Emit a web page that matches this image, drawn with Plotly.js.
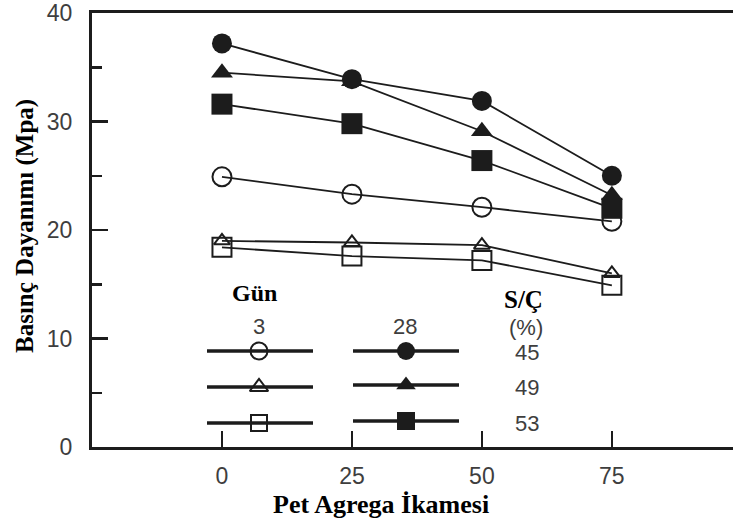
<!DOCTYPE html>
<html>
<head>
<meta charset="utf-8">
<script src="https://cdn.plot.ly/plotly-3.0.1.min.js"></script>
<style>html,body{margin:0;padding:0;background:#fff;}</style>
</head>
<body>
<div id="chart" style="width:733px;height:525px;"></div>
<script>
// ---- data ----
const petReplacement = [0, 25, 50, 75];
const day28_wc45 = [37.2, 33.9, 31.9, 25.0];
const day28_wc49 = [34.5, 33.7, 29.1, 23.2];
const day28_wc53 = [31.6, 29.8, 26.4, 22.0];
const day3_wc45 = [24.9, 23.3, 22.1, 20.8];
const day3_wc49 = [19.0, 18.85, 18.6, 16.0];
const day3_wc53 = [18.4, 17.6, 17.2, 14.9];
const xTickVals = [0, 25, 50, 75];
const yTickVals = [0, 10, 20, 30, 40];
const legendDays = ['3', '28'];
const legendWC = ['45', '49', '53'];
const xTitle = 'Pet Agrega İkamesi';
const yTitle = 'Basınç Dayanımı (Mpa)';

// ---- styles ----
const ink = '#1c1c1c';
const tickGray = '#3e3e3e';
const sans = 'Liberation Sans, Arial, sans-serif';
const serif = 'Liberation Serif';

function series(y, symbol, size, filled) {
  return {
    x: petReplacement, y: y, type: 'scatter', mode: 'lines+markers',
    line: {color: ink, width: 1.8},
    marker: {symbol: symbol, size: size, color: ink,
             line: {color: ink, width: filled ? 0 : 2}},
    showlegend: false, cliponaxis: false, hoverinfo: 'x+y'
  };
}

const traces = [
  series(day3_wc49, 'triangle-up-open', 14, false),
  series(day3_wc53, 'square-open', 19, false),
  series(day3_wc45, 'circle-open', 19, false),
  series(day28_wc53, 'square', 21, true),
  series(day28_wc49, 'triangle-up', 19, true),
  series(day28_wc45, 'circle', 20, true)
];

// ---- hand-drawn key (positions in pixel-like helper axes) ----
const keyRowsY = {left: [351, 387, 423], right: [351, 385, 421]};
const keyCols = {left: {x0: 207, x1: 313, xm: 259}, right: {x0: 353, x1: 459, xm: 406}};
const keySymbols = {left: ['circle-open', 'triangle-up-open', 'square-open'],
                    right: ['circle', 'triangle-up', 'square']};
const keySizes = {left: [17, 16, 16], right: [18, 17, 18]};

['left', 'right'].forEach(side => {
  keyRowsY[side].forEach((yy, i) => {
    const c = keyCols[side];
    traces.push({
      x: [c.x0, c.x1], y: [yy, yy], xaxis: 'x2', yaxis: 'y2', type: 'scatter',
      mode: 'lines', line: {color: ink, width: 3.3}, showlegend: false, hoverinfo: 'skip'
    });
    const open = side === 'left';
    traces.push({
      x: [c.xm], y: [yy], xaxis: 'x2', yaxis: 'y2', type: 'scatter', mode: 'markers',
      marker: {symbol: keySymbols[side][i], size: keySizes[side][i], color: ink,
               line: {color: ink, width: open ? 2 : 0}},
      showlegend: false, hoverinfo: 'skip', cliponaxis: false
    });
  });
});

function ann(text, x, y, font) {
  return {text: text, x: x, y: y, xref: 'x2', yref: 'y2', showarrow: false,
          xanchor: 'center', yanchor: 'middle', font: font};
}
const numFont = {family: sans, size: 22, color: tickGray};
const boldSerif = {family: serif, size: 24, color: '#000'};

const annotations = [
  ann('<b>Gün</b>', 254, 293, boldSerif),
  ann('<b>S/Ç</b>', 523, 299, {family: serif, size: 25, color: '#000'}),
  ann(legendDays[0], 259, 326, numFont),
  ann(legendDays[1], 405, 326, numFont),
  ann('(%)', 526, 327, numFont),
  ann(legendWC[0], 527, 352, numFont),
  ann(legendWC[1], 527, 387, numFont),
  ann(legendWC[2], 527, 423, numFont),
  {text: '<b>' + xTitle + '</b>', x: (381 - 92) / 641, y: (447 - 504) / 434,
   xref: 'paper', yref: 'paper', showarrow: false, xanchor: 'center', yanchor: 'middle',
   font: {family: serif, size: 26, color: '#000'}},
  {text: '<b>' + yTitle + '</b>', x: (25 - 92) / 641, y: (447 - 226) / 434, textangle: -90,
   xref: 'paper', yref: 'paper', showarrow: false, xanchor: 'center', yanchor: 'middle',
   font: {family: serif, size: 25, color: '#000'}}
];

const layout = {
  width: 733, height: 525,
  margin: {l: 92, r: 0, t: 13, b: 78},
  paper_bgcolor: '#ffffff', plot_bgcolor: '#ffffff',
  showlegend: false,
  xaxis: {
    range: [-25, 98.3], tickvals: xTickVals, ticks: 'inside', ticklen: 16, tickwidth: 2.5,
    tickcolor: ink, showline: true, linecolor: ink, linewidth: 3, mirror: true,
    showgrid: false, zeroline: false, tickfont: {family: sans, size: 23, color: tickGray},
    ticklabelstandoff: 6, fixedrange: true
  },
  yaxis: {
    range: [0, 40], tickvals: yTickVals, ticks: 'inside', ticklen: 16, tickwidth: 2.5,
    tickcolor: ink, showline: true, linecolor: ink, linewidth: 3, mirror: false,
    showgrid: false, zeroline: false, tickfont: {family: sans, size: 23, color: tickGray},
    ticklabelstandoff: 12, fixedrange: true,
    minor: {dtick: 5, ticks: 'inside', ticklen: 10, tickwidth: 2.5, tickcolor: ink, showgrid: false}
  },
  xaxis2: {overlaying: 'x', anchor: 'y2', range: [92, 733], visible: false, fixedrange: true},
  yaxis2: {overlaying: 'y', anchor: 'x2', range: [447, 13], visible: false, fixedrange: true},
  annotations: annotations
};

Plotly.newPlot('chart', traces, layout, {displayModeBar: false, staticPlot: true});
</script>
</body>
</html>
